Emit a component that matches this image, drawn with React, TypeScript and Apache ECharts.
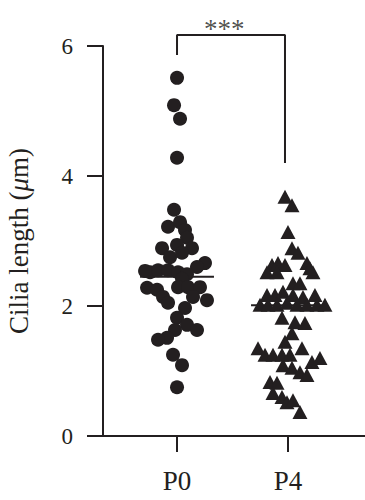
import React, { useEffect, useRef } from "react";
import * as echarts from "echarts";

// ---- data ----
const categories = ["P0", "P4"];

const p0Values = [
  5.51, 5.09, 4.88, 4.28, 3.48, 3.22, 3.29, 3.17, 3.05, 2.94, 2.89, 2.89, 2.75, 2.82,
  2.66, 2.6, 2.52, 2.55, 2.55, 2.52, 2.49, 2.42, 2.28, 2.25, 2.14, 2.05, 2.29, 2.29,
  2.29, 2.14, 2.09, 1.97, 1.82, 1.71, 1.63, 1.63, 1.51, 1.48, 1.25, 1.09, 0.75, 2.54,
];
const p0Jitter = [
  0, -0.027, 0.027, 0, -0.027, -0.081, 0.027, 0.072, 0.09, 0, -0.135, 0.135, -0.063, 0.045,
  0.252, 0.18, -0.243, -0.171, -0.081, 0.009, 0.09, 0.045, -0.27, -0.18, -0.126, -0.081, 0.009, 0.099,
  0.207, 0.144, 0.27, 0.072, 0, 0.09, 0.18, -0.018, -0.09, -0.171, -0.036, 0.045, 0, -0.288,
];

const p4Values = [
  3.68, 3.55, 3.14, 2.89, 2.82, 2.66, 2.52, 2.63, 2.66, 2.63, 2.52, 2.52, 2.58, 2.35,
  2.35, 2.17, 2.17, 2.22, 2.17, 2.14, 2.17, 2.02, 2.02, 2.02, 2.05, 2.02, 2.02, 2.02,
  2.02, 1.82, 1.75, 1.74, 1.58, 1.45, 1.35, 1.25, 1.25, 1.25, 1.25, 1.35, 1.14, 1.2,
  1.09, 1.05, 0.98, 0.94, 0.83, 0.82, 0.66, 0.6, 0.52, 0.55, 0.37,
];
const p4Jitter = [
  -0.027, 0.036, 0, 0.036, 0.09, 0.171, 0.225, -0.144, -0.09, -0.027, -0.189, -0.099, 0.198, 0.045,
  0.108, -0.189, -0.117, -0.045, 0.045, 0.135, 0.243, -0.252, -0.18, -0.099, -0.009, 0.081, 0.171, 0.261,
  0.333, -0.054, 0.063, 0.153, 0.036, -0.027, -0.27, -0.207, -0.135, -0.054, 0.018, 0.126, 0.216, 0.288,
  -0.045, 0.036, 0.108, 0.171, -0.162, -0.099, -0.135, -0.054, -0.009, 0.045, 0.108,
];

const means = [2.45, 2.01];
const sigLabel = "***";
const bracketTop = 6.17;
const bracketLeftEnd = 5.86;
const bracketRightEnd = 4.2;

const INK = "#231f20";
const FONT = "'Liberation Serif', 'DejaVu Serif', serif";

export default function App() {
  const ref = useRef<HTMLDivElement>(null);

  useEffect(() => {
    if (!ref.current) return;
    const chart = echarts.init(ref.current, null, { renderer: "svg" });

    const pos = [1, 2];
    const half = 0.333;
    const p0Data = p0Values.map((v, i) => [pos[0] + p0Jitter[i], v]);
    const p4Data = p4Values.map((v, i) => [pos[1] + p4Jitter[i], v]);
    const bracketRightX = pos[1] - 0.027;

    chart.setOption({
      animation: false,
      grid: {
        left: 103,
        right: 0,
        top: 46,
        bottom: 64,
        containLabel: false,
        outerBoundsMode: "none",
      },
      xAxis: {
        type: "value",
        min: 0.333,
        max: 2.694,
        splitLine: { show: false },
        axisLine: { show: true, lineStyle: { color: INK, width: 2 } },
        axisTick: {
          show: true,
          length: 16,
          lineStyle: { color: INK, width: 2 },
          customValues: pos,
        },
        axisLabel: {
          customValues: pos,
          formatter: (v: number) => categories[Math.round(v) - 1] ?? "",
          fontFamily: FONT,
          fontSize: 27,
          color: INK,
          margin: 31,
        },
      },
      yAxis: {
        type: "value",
        min: 0,
        max: 6,
        interval: 2,
        splitLine: { show: false },
        axisLine: { show: true, lineStyle: { color: INK, width: 2 } },
        axisTick: { show: true, length: 16, lineStyle: { color: INK, width: 2 } },
        axisLabel: { fontFamily: FONT, fontSize: 23, color: INK, margin: 30 },
        name: "Cilia length ({i|μ}m)",
        nameLocation: "middle",
        nameGap: 71,
        nameTextStyle: {
          fontFamily: FONT,
          fontSize: 27,
          color: INK,
          rich: { i: { fontFamily: FONT, fontSize: 27, fontStyle: "italic", color: INK } },
        },
      },
      series: [
        {
          type: "line",
          data: [
            [pos[0] - half, means[0]],
            [pos[0] + half, means[0]],
          ],
          symbol: "none",
          lineStyle: { color: INK, width: 2 },
          z: 1,
        },
        {
          type: "line",
          data: [
            [pos[1] - half, means[1]],
            [pos[1] + half, means[1]],
          ],
          symbol: "none",
          lineStyle: { color: INK, width: 2 },
          z: 1,
        },
        {
          type: "scatter",
          data: p0Data,
          symbol: "circle",
          symbolSize: 14,
          itemStyle: { color: INK, opacity: 1 },
          z: 2,
        },
        {
          type: "scatter",
          data: p4Data,
          symbol: "triangle",
          symbolSize: [15, 14],
          itemStyle: { color: INK, opacity: 1 },
          z: 2,
        },
        {
          type: "line",
          clip: false,
          data: [
            [pos[0], bracketLeftEnd],
            [pos[0], bracketTop],
            [bracketRightX, bracketTop],
            [bracketRightX, bracketRightEnd],
          ],
          symbol: "none",
          lineStyle: { color: INK, width: 2 },
          z: 3,
        },
        {
          type: "scatter",
          clip: false,
          data: [[(pos[0] + bracketRightX) / 2 - 0.06, bracketTop]],
          symbolSize: 1,
          itemStyle: { color: "transparent" },
          label: {
            show: true,
            position: "top",
            distance: -8,
            formatter: sigLabel,
            fontFamily: FONT,
            fontSize: 27,
            color: INK,
          },
          z: 3,
        },
      ],
    });

    return () => chart.dispose();
  }, []);

  return (
    <div
      ref={ref}
      style={{ position: "absolute", left: 0, top: 0, width: 365, height: 500 }}
    />
  );
}
